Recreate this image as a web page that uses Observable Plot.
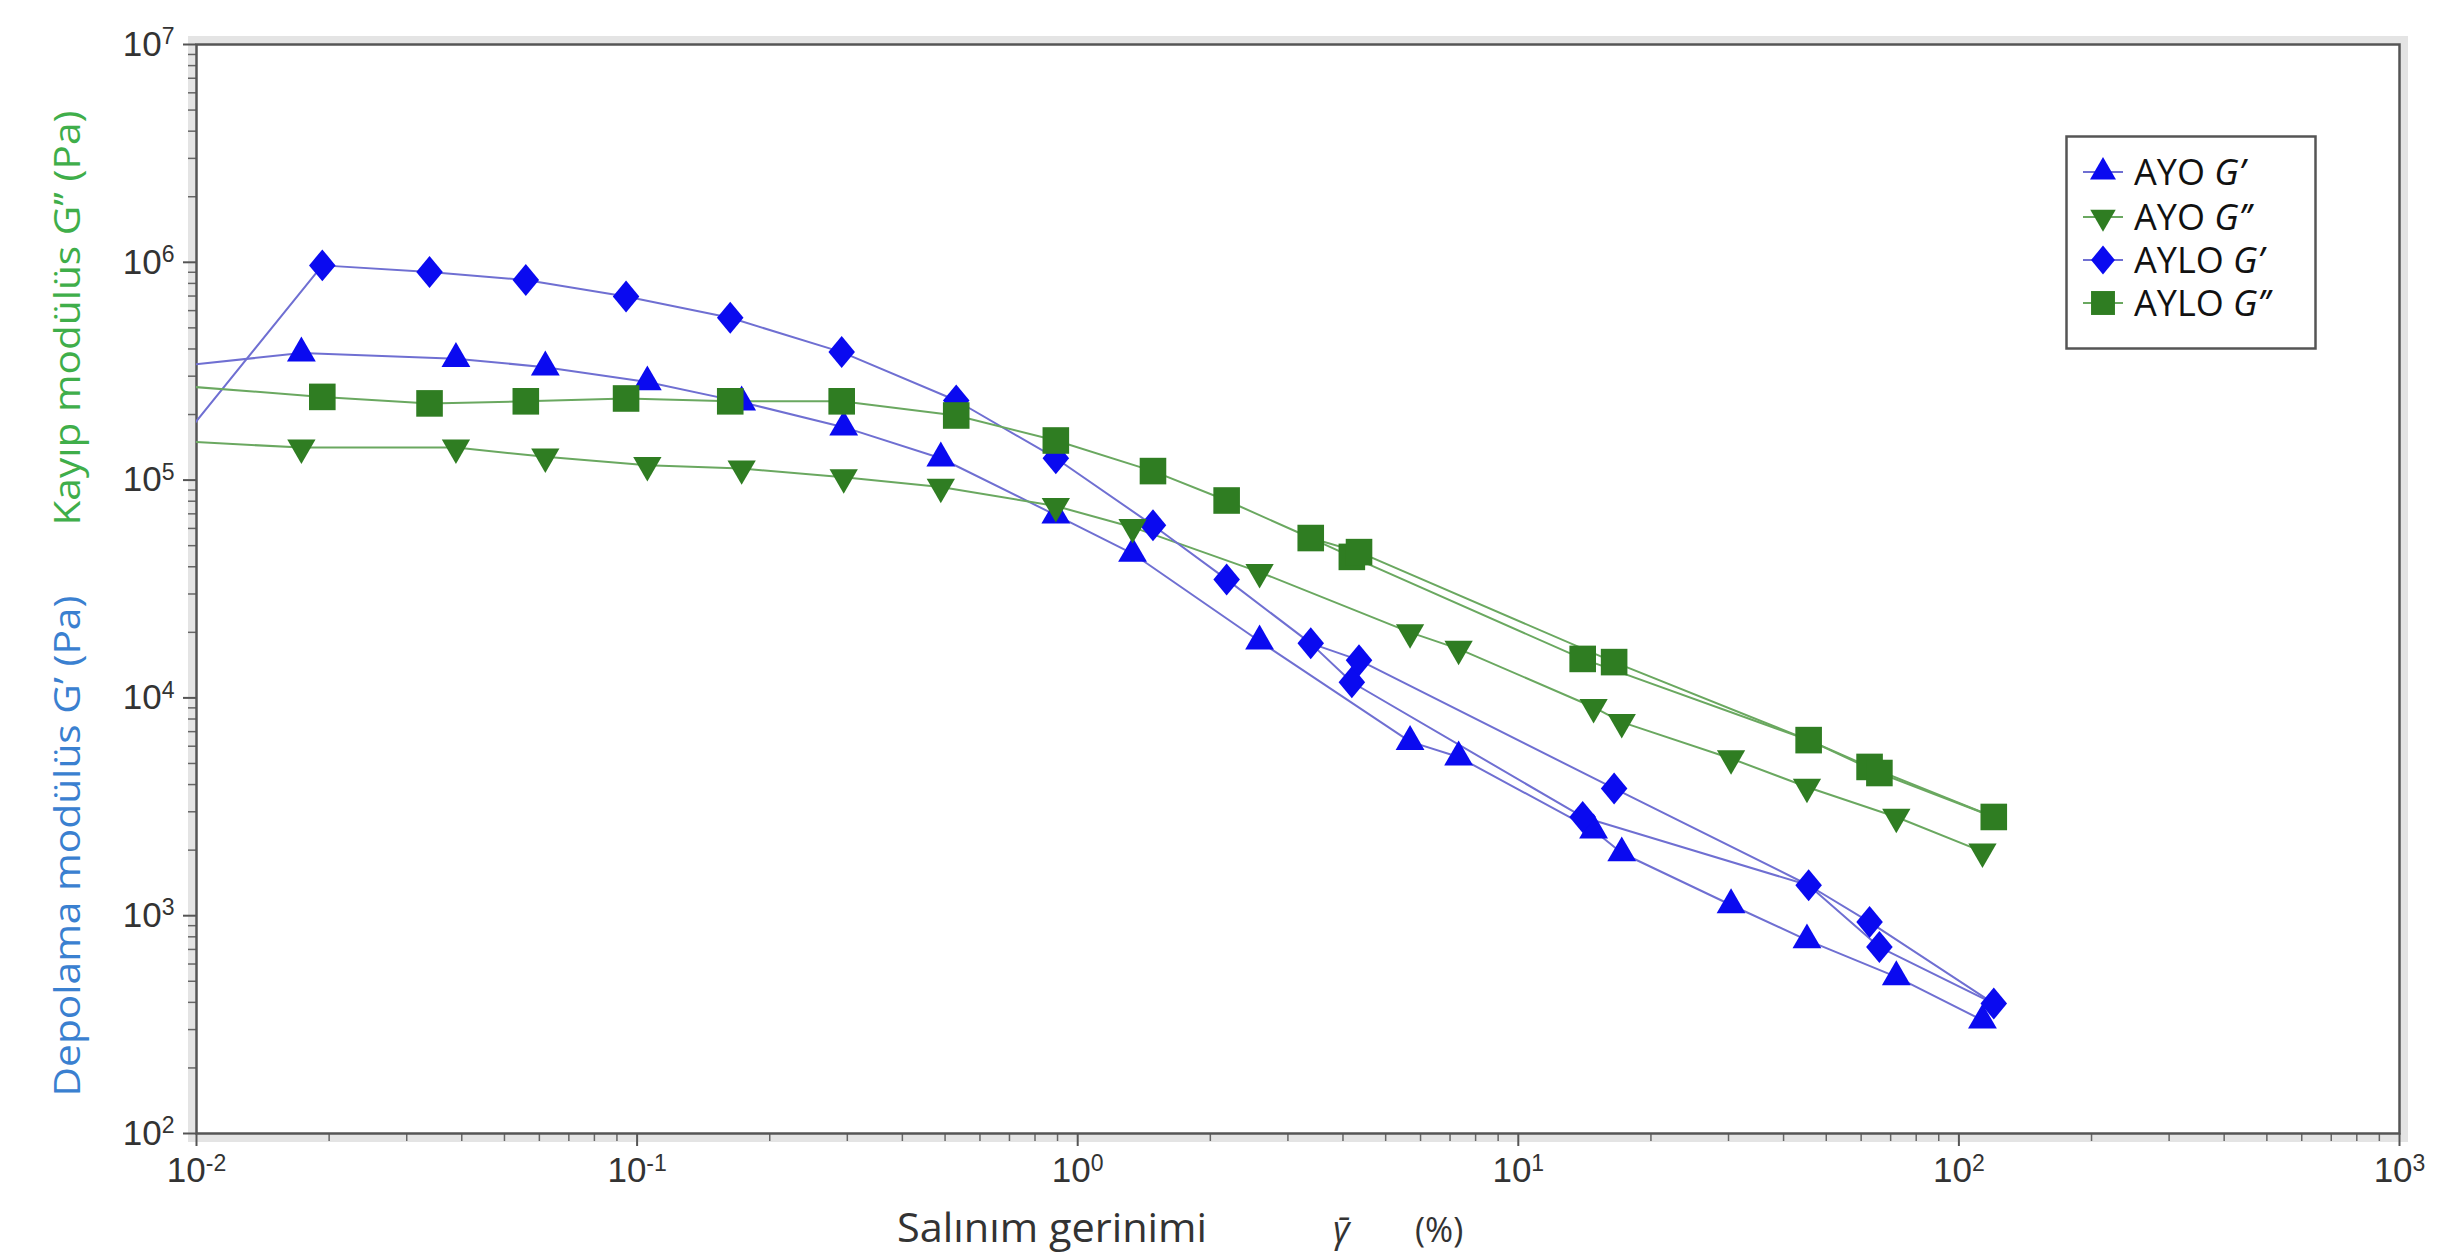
<!DOCTYPE html>
<html><head><meta charset="utf-8">
<script src="https://cdn.jsdelivr.net/npm/d3@7"></script>
<script src="https://cdn.jsdelivr.net/npm/@observablehq/plot@0.6"></script>
<style>
html,body{margin:0;padding:0;background:#fff;}
#wrap{position:relative;width:2458px;height:1256px;overflow:hidden;}
#legend{position:absolute;left:2065px;top:135px;}
</style></head><body><div id="wrap"></div>
<script>
// ---- data ----
const seriesNames = ["AYO G’", "AYO G’’", "AYLO G’", "AYLO G’’"];
const ayoStrain  = [0.0085, 0.0173, 0.0388, 0.0619, 0.1055, 0.1727, 0.2944, 0.489, 0.892, 1.332, 2.587, 5.68, 7.32, 14.82, 17.17, 30.4, 45.2, 72.1, 113.1];
const ayoStorage = [3.29e5, 3.83e5, 3.61e5, 3.30e5, 2.82e5, 2.28e5, 1.75e5, 1.26e5, 6.9e4, 4.6e4, 1.82e4, 6.3e3, 5.35e3, 2.47e3, 1.94e3, 1.12e3, 773, 524, 331];
const ayoLoss    = [1.52e5, 1.41e5, 1.41e5, 1.28e5, 1.17e5, 1.13e5, 1.03e5, 9.3e4, 7.6e4, 6.08e4, 3.78e4, 2.0e4, 1.68e4, 9.06e3, 7.74e3, 5.27e3, 3.9e3, 2.84e3, 1.97e3];
const ayloStrain  = [0.0085, 0.0193, 0.0338, 0.0559, 0.0944, 0.1627, 0.2913, 0.530, 0.892, 1.482, 2.178, 3.38, 4.19, 4.35, 14.0, 16.5, 45.6, 62.7, 66.0, 120];
const ayloStorage = [1.245e5, 9.68e5, 9.02e5, 8.3e5, 6.96e5, 5.56e5, 3.87e5, 2.32e5, 1.26e5, 6.2e4, 3.5e4, 1.78e4, 1.18e4, 1.49e4, 2.84e3, 3.84e3, 1.38e3, 935, 718, 395];
const ayloLoss    = [2.74e5, 2.41e5, 2.25e5, 2.30e5, 2.37e5, 2.30e5, 2.30e5, 1.98e5, 1.52e5, 1.10e5, 8.06e4, 5.42e4, 4.44e4, 4.67e4, 1.51e4, 1.46e4, 6.4e3, 4.82e3, 4.52e3, 2.84e3];
// the AYLO curves are drawn as two overlapping passes (point indices, in drawing order)
const ayloPassA = [0, 1, 2, 3, 4, 5, 6, 7, 8, 9, 10, 11, 13, 15, 16, 17, 19];
const ayloPassB = [11, 12, 14, 16, 18, 19];

const xMajor = [0.01, 0.1, 1, 10, 100, 1000];
const yMajor = [1e2, 1e3, 1e4, 1e5, 1e6, 1e7];
const xMinor = xMajor.slice(0, -1).flatMap(d => d3.range(2, 10).map(k => k * d));
const yMinor = yMajor.slice(0, -1).flatMap(d => d3.range(2, 10).map(k => k * d));

const diamondTall = {
  draw(ctx, size) {
    const h = Math.sqrt(size) * 0.82, w = h * 0.83;
    ctx.moveTo(0, -h); ctx.lineTo(w, 0); ctx.lineTo(0, h); ctx.lineTo(-w, 0); ctx.closePath();
  }
};

const markerColor = {"AYO G’": "#0a0af0", "AYO G’’": "#2f7d22", "AYLO G’": "#0a0af0", "AYLO G’’": "#2f7d22"};
const lineColor   = {"AYO G’": "#6f6fd2", "AYO G’’": "#6aa860", "AYLO G’": "#6f6fd2", "AYLO G’’": "#6aa860"};
const symbolOf    = {"AYO G’": d3.symbolTriangle, "AYO G’’": d3.symbolTriangle, "AYLO G’": diamondTall, "AYLO G’’": d3.symbolSquare};
const rotateOf    = {"AYO G’": 0, "AYO G’’": 180, "AYLO G’": 0, "AYLO G’’": 0};
const radiusOf    = {"AYO G’": 10.7, "AYO G’’": 10.5, "AYLO G’": 11, "AYLO G’’": 15};

// points for markers
const rows = [];
ayoStrain.forEach((x, i) => rows.push({series: seriesNames[0], x, y: ayoStorage[i]}));
ayoStrain.forEach((x, i) => rows.push({series: seriesNames[1], x, y: ayoLoss[i]}));
ayloStrain.forEach((x, i) => rows.push({series: seriesNames[2], x, y: ayloStorage[i]}));
ayloStrain.forEach((x, i) => rows.push({series: seriesNames[3], x, y: ayloLoss[i]}));

// connecting lines
const lineRows = [];
ayoStrain.forEach((x, i) => lineRows.push({series: seriesNames[0], path: "a", x, y: ayoStorage[i]}));
ayoStrain.forEach((x, i) => lineRows.push({series: seriesNames[1], path: "a", x, y: ayoLoss[i]}));
[["a", ayloPassA], ["b", ayloPassB]].forEach(([p, idx]) => {
  idx.forEach(i => lineRows.push({series: seriesNames[2], path: p, x: ayloStrain[i], y: ayloStorage[i]}));
  idx.forEach(i => lineRows.push({series: seriesNames[3], path: p, x: ayloStrain[i], y: ayloLoss[i]}));
});

const fmt = d => "10|" + Math.round(Math.log10(d));
const dotOrder = [seriesNames[0], seriesNames[2], seriesNames[1], seriesNames[3]];

const chart = Plot.plot({
  width: 2458, height: 1256,
  marginLeft: 196, marginRight: 59, marginTop: 44, marginBottom: 123,
  style: {fontFamily: "'Liberation Sans', Arial, sans-serif", fontSize: "34px", color: "#333", background: "#fff"},
  x: {type: "log", domain: [0.01, 1000], label: null},
  y: {type: "log", domain: [100, 1e7], label: null},
  marks: [
    Plot.frame({stroke: "#e4e4e4", strokeWidth: 9, inset: -4}),
    Plot.axisX(xMinor, {tickSize: 8, tickFormat: () => "", stroke: "#666", strokeWidth: 1.5, label: null}),
    Plot.axisY(yMinor, {tickSize: 8, tickFormat: () => "", stroke: "#666", strokeWidth: 1.5, label: null}),
    Plot.axisX(xMajor, {tickSize: 13, tickPadding: 11, tickFormat: fmt, stroke: "#555", strokeWidth: 2, fill: "#333", label: null}),
    Plot.axisY(yMajor, {tickSize: 13, tickPadding: 9, tickFormat: fmt, stroke: "#555", strokeWidth: 2, fill: "#333", label: null}),
    Plot.frame({stroke: "#555", strokeWidth: 2.5}),
    Plot.line(lineRows, {x: "x", y: "y", z: d => d.series + d.path, stroke: d => lineColor[d.series], strokeWidth: 2, clip: true}),
    ...dotOrder.map(s => Plot.dot(rows.filter(d => d.series === s), {
      x: "x", y: "y", symbol: symbolOf[s], r: radiusOf[s], rotate: rotateOf[s],
      fill: markerColor[s], stroke: "none", clip: true
    }))
  ]
});

// superscript exponents in tick labels
d3.select(chart).selectAll("text").each(function() {
  const t = this.textContent;
  if (!t.includes("|")) return;
  const [b, e] = t.split("|");
  const sel = d3.select(this);
  sel.text(null).style("font-size", "35px");
  sel.append("tspan").text(b);
  sel.append("tspan").attr("dy", "-0.5em").style("font-size", "23px").text(e);
});

// axis titles
const svg = d3.select(chart);
svg.append("text")
  .attr("transform", "translate(80,318) rotate(-90)")
  .attr("text-anchor", "middle")
  .attr("font-family", "'Open Sans', sans-serif").attr("font-size", 36)
  .attr("fill", "#3fae4a")
  .attr("textLength", 415).attr("lengthAdjust", "spacingAndGlyphs")
  .text("Kayıp modülüs G’’ (Pa)");
svg.append("text")
  .attr("transform", "translate(80,846) rotate(-90)")
  .attr("text-anchor", "middle")
  .attr("font-family", "'Open Sans', sans-serif").attr("font-size", 36)
  .attr("fill", "#3a80d0")
  .attr("textLength", 501).attr("lengthAdjust", "spacingAndGlyphs")
  .text("Depolama modülüs G’ (Pa)");
const xl = svg.append("g").attr("font-family", "'Open Sans', sans-serif").attr("fill", "#333").attr("text-anchor", "start");
xl.append("text").attr("x", 897).attr("y", 1242).attr("font-size", 40)
  .attr("textLength", 310).attr("lengthAdjust", "spacingAndGlyphs").text("Salınım gerinimi");
xl.append("text").attr("x", 1333).attr("y", 1242).attr("font-size", 36).attr("font-style", "italic").text("γ\u0304");
xl.append("text").attr("x", 1415).attr("y", 1242).attr("font-size", 34).text("(%)");

document.getElementById("wrap").appendChild(chart);

// legend
const lg = d3.create("svg").attr("id", "legend").attr("width", 252).attr("height", 216);
lg.append("rect").attr("x", 1.5).attr("y", 1.5).attr("width", 249).attr("height", 212)
  .attr("fill", "#fff").attr("stroke", "#555").attr("stroke-width", 2.5);
const rowY = [37, 82, 125, 168];
const legendSpec = [
  {s: seriesNames[0], name: "AYO ", g: "G’"},
  {s: seriesNames[1], name: "AYO ", g: "G’’"},
  {s: seriesNames[2], name: "AYLO ", g: "G’"},
  {s: seriesNames[3], name: "AYLO ", g: "G’’"}
];
legendSpec.forEach((e, i) => {
  const g = lg.append("g").attr("transform", `translate(38,${rowY[i]})`);
  g.append("line").attr("x1", -20).attr("x2", 20).attr("stroke", lineColor[e.s]).attr("stroke-width", 2);
  const r = radiusOf[e.s] * 0.9;
  g.append("path").attr("d", d3.symbol(symbolOf[e.s], Math.PI * r * r)())
    .attr("transform", `rotate(${rotateOf[e.s]})`).attr("fill", markerColor[e.s]);
  const t = lg.append("text").attr("x", 69).attr("y", rowY[i]).attr("dy", "0.36em")
    .attr("font-family", "'Open Sans', sans-serif").attr("font-size", 36).attr("fill", "#111");
  t.append("tspan").text(e.name);
  t.append("tspan").attr("font-style", "italic").text(e.g);
});
document.getElementById("wrap").appendChild(lg.node());
</script></body></html>
